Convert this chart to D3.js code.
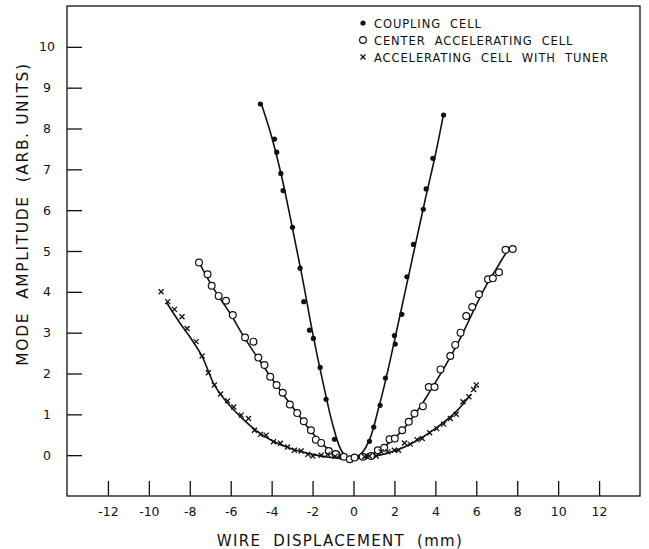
<!DOCTYPE html>
<html><head><meta charset="utf-8">
<script src="https://cdn.jsdelivr.net/npm/d3@7"></script>
<style>body{margin:0;background:#fff} svg{display:block} text{white-space:pre}</style>
</head><body>
<svg id="c" width="649" height="549"></svg>
<script>
// ---- data ----
const xTickValues = [-12,-10,-8,-6,-4,-2,0,2,4,6,8,10,12];
const yTickValues = [0,1,2,3,4,5,6,7,8,9,10];
const legendLabels = ["COUPLING  CELL","CENTER  ACCELERATING  CELL","ACCELERATING  CELL  WITH  TUNER"];
const xTitle = "WIRE  DISPLACEMENT  (mm)";
const yTitle = "MODE  AMPLITUDE  (ARB. UNITS)";

// coupling cell (filled dots)
const couplingX = [-4.55,-3.86,-3.75,-3.55,-3.44,-2.98,-2.61,-2.43,-2.15,-1.96,-1.63,-1.34,-0.93,-0.77,-0.6,0.5,0.78,0.99,1.3,1.56,2.04,2.0,2.36,2.61,2.93,3.41,3.55,3.88,4.4];
const couplingY = [8.6,7.74,7.42,6.9,6.48,5.58,4.58,3.76,3.06,2.86,2.15,1.37,0.39,0.04,-0.05,-0.05,0.34,0.69,1.22,1.89,2.72,2.93,3.45,4.37,5.16,6.02,6.52,7.27,8.33];
const couplingFitX = [-4.5,-4.0,-3.5,-3.0,-2.5,-2.0,-1.5,-1.0,-0.6,-0.25,0.1,0.4,0.8,1.2,1.6,2.0,2.5,3.0,3.5,4.0,4.4];
const couplingFitY = [8.6,7.8,6.8,5.6,4.35,3.0,1.8,0.72,0.12,-0.08,-0.06,0.05,0.4,1.1,1.9,2.8,3.95,5.1,6.25,7.35,8.35];

// center accelerating cell (open circles)
const centerX = [-7.55,-7.13,-6.93,-6.59,-6.23,-5.9,-5.3,-4.89,-4.65,-4.35,-4.07,-3.76,-3.46,-3.11,-2.75,-2.43,-2.08,-1.84,-1.58,-1.21,-0.87,-0.47,-0.18,0.05,0.45,0.86,1.19,1.5,1.76,2.02,2.38,2.7,2.98,3.39,3.68,3.96,4.25,4.73,4.97,5.23,5.51,5.8,6.13,6.57,6.81,7.11,7.43,7.78];
const centerY = [4.72,4.43,4.15,3.9,3.78,3.43,2.88,2.78,2.39,2.21,1.92,1.72,1.53,1.24,1.03,0.83,0.61,0.38,0.3,0.1,0.03,-0.04,-0.1,-0.06,-0.04,-0.02,0.12,0.18,0.39,0.41,0.61,0.82,1.02,1.2,1.67,1.67,2.1,2.43,2.7,3.0,3.41,3.63,3.94,4.31,4.33,4.48,5.03,5.05];
const centerFitX = [-7.55,-7.0,-6.5,-6.0,-5.5,-5.0,-4.5,-4.0,-3.5,-3.0,-2.5,-2.0,-1.5,-1.0,-0.5,0,0.5,1.0,1.5,2.0,2.5,3.0,3.5,4.0,4.5,5.0,5.5,6.0,6.5,7.0,7.5,7.78];
const centerFitY = [4.72,4.22,3.82,3.45,3.02,2.62,2.25,1.88,1.53,1.19,0.86,0.54,0.26,0.07,-0.05,-0.09,-0.05,0.05,0.21,0.41,0.68,1.0,1.37,1.78,2.2,2.65,3.15,3.68,4.17,4.58,4.98,5.12];

// accelerating cell with tuner (x marks)
const tunerX = [-9.4,-9.08,-8.75,-8.38,-8.13,-7.69,-7.4,-7.09,-6.8,-6.5,-6.15,-5.85,-5.49,-5.13,-4.84,-4.55,-4.27,-3.91,-3.57,-3.22,-2.89,-2.56,-2.23,-1.99,-1.58,-1.26,-0.9,0.54,0.78,1.11,1.35,1.68,2.0,2.2,2.49,2.77,3.1,3.36,3.72,4.07,4.4,4.73,5.02,5.35,5.64,5.87,6.0];
const tunerY = [4.0,3.76,3.57,3.39,3.1,2.78,2.43,2.02,1.72,1.5,1.33,1.18,0.98,0.9,0.61,0.51,0.49,0.33,0.29,0.2,0.12,0.1,0.02,-0.02,0.0,0.02,-0.03,-0.04,-0.02,-0.02,0.08,0.08,0.12,0.12,0.3,0.27,0.38,0.41,0.55,0.65,0.76,0.9,1.0,1.31,1.43,1.61,1.72];
const tunerFitX = [-9.15,-8.5,-8.0,-7.4,-6.8,-6.2,-5.5,-4.8,-4.0,-3.0,-2.0,-1.2,-0.5,0,1.0,2.0,3.0,4.0,5.0,5.75];
const tunerFitY = [3.75,3.25,2.9,2.42,1.72,1.3,0.93,0.62,0.36,0.15,0.02,-0.05,-0.08,-0.08,-0.03,0.1,0.33,0.65,1.06,1.5];

// ---- drawing ----
const svg = d3.select("#c");
const L = 67, R = 640, T = 6, B = 496;
const x = d3.scaleLinear().domain([-14,14]).range([L,R]);
const y = d3.scaleLinear().domain([-1,11]).range([B,T]);
const ink = "#111";
const font = "'DejaVu Sans', 'Liberation Sans', sans-serif";

// frame
svg.append("rect").attr("x",L).attr("y",T).attr("width",R-L).attr("height",B-T)
  .attr("fill","none").attr("stroke",ink).attr("stroke-width",1.3);

// axes with inward ticks
const gx = svg.append("g").attr("transform",`translate(0,${B})`)
  .call(d3.axisBottom(x).tickValues(xTickValues).tickSize(-15).tickPadding(11).tickFormat(d=>String(d)));
const gy = svg.append("g").attr("transform",`translate(${L},0)`)
  .call(d3.axisLeft(y).tickValues(yTickValues).tickSize(-15).tickPadding(13).tickFormat(d=>String(d)));
[gx,gy].forEach(g=>{
  g.select(".domain").remove();
  g.selectAll(".tick line").attr("stroke",ink).attr("stroke-width",1.3);
  g.selectAll(".tick text").attr("fill",ink).style("font-family",font).style("font-size","12.5px");
});
gy.selectAll(".tick text").attr("text-anchor","middle").attr("x",-20);

// axis titles
svg.append("text").attr("x",340).attr("y",546).attr("text-anchor","middle")
  .style("font-family",font).style("font-size","15px").style("letter-spacing","1.3px").attr("fill",ink)
  .text(xTitle);
svg.append("text").attr("transform",`translate(28,214) rotate(-90)`).attr("text-anchor","middle")
  .style("font-family",font).style("font-size","15.5px").style("letter-spacing","1.6px").attr("fill",ink)
  .text(yTitle);

// curves
const line = d3.line().x(d=>x(d[0])).y(d=>y(d[1])).curve(d3.curveCatmullRom);
function drawFit(xs, ys){
  svg.append("path").datum(d3.zip(xs,ys)).attr("d",line)
    .attr("fill","none").attr("stroke",ink).attr("stroke-width",1.6);
}
drawFit(couplingFitX,couplingFitY);
drawFit(centerFitX,centerFitY);
drawFit(tunerFitX,tunerFitY);

// markers
function dots(g, pts){
  g.selectAll("circle.f").data(pts).join("circle").attr("class","f")
    .attr("cx",d=>x(d[0])).attr("cy",d=>y(d[1])).attr("r",2.6).attr("fill",ink);
}
function rings(g, pts){
  g.selectAll("circle.o").data(pts).join("circle").attr("class","o")
    .attr("cx",d=>x(d[0])).attr("cy",d=>y(d[1])).attr("r",3.4).attr("fill","#fff").attr("stroke",ink).attr("stroke-width",1.2);
}
function crosses(g, pts){
  const s = 2.5;
  g.selectAll("path.x").data(pts).join("path").attr("class","x")
    .attr("d",d=>{const cx=x(d[0]), cy=y(d[1]);
      return `M${cx-s},${cy-s}L${cx+s},${cy+s}M${cx+s},${cy-s}L${cx-s},${cy+s}`;})
    .attr("stroke",ink).attr("stroke-width",1.3).attr("fill","none");
}
const mg = svg.append("g");
dots(mg.append("g"), d3.zip(couplingX,couplingY));
rings(mg.append("g"), d3.zip(centerX,centerY));
crosses(mg.append("g"), d3.zip(tunerX,tunerY));

// legend
const lg = svg.append("g");
const ly = [23,40,57];
const lx = 363;
legendLabels.forEach((t,i)=>{
  lg.append("text").attr("x",lx+11).attr("y",ly[i]+4.5).text(t)
    .style("font-family",font).style("font-size","11.5px").style("letter-spacing","0.9px").attr("fill",ink);
});
dots(lg.append("g"), [[x.invert(lx),y.invert(ly[0])]]);
rings(lg.append("g"), [[x.invert(lx),y.invert(ly[1])]]);
crosses(lg.append("g"), [[x.invert(lx),y.invert(ly[2])]]);
</script>
</body></html>
